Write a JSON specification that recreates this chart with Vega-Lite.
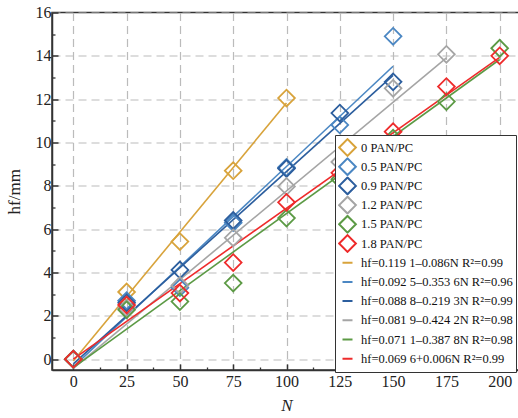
{
  "$schema": "https://vega.github.io/schema/vega-lite/v6.json",
  "width": 469,
  "height": 357.5,
  "autosize": "none",
  "padding": {"left": 52, "top": 12.5, "right": 0, "bottom": 48},
  "config": {
    "font": "Liberation Serif",
    "view": {"stroke": "#333333", "strokeWidth": 1.5},
    "legend": {"labelFont": "Liberation Serif", "labelFontSize": 12.5}
  },
  "datasets": {
    "pts": [
      {"label": "0 PAN/PC", "N": 0, "h": 0},
      {"label": "0 PAN/PC", "N": 25, "h": 3.1},
      {"label": "0 PAN/PC", "N": 50, "h": 5.43},
      {"label": "0 PAN/PC", "N": 75, "h": 8.7},
      {"label": "0 PAN/PC", "N": 100, "h": 12.05},
      {"label": "0.5 PAN/PC", "N": 0, "h": 0},
      {"label": "0.5 PAN/PC", "N": 25, "h": 2.7},
      {"label": "0.5 PAN/PC", "N": 50, "h": 3.3},
      {"label": "0.5 PAN/PC", "N": 75, "h": 6.3},
      {"label": "0.5 PAN/PC", "N": 100, "h": 8.85},
      {"label": "0.5 PAN/PC", "N": 125, "h": 10.81},
      {"label": "0.5 PAN/PC", "N": 150, "h": 14.9},
      {"label": "0.9 PAN/PC", "N": 0, "h": 0},
      {"label": "0.9 PAN/PC", "N": 25, "h": 2.6},
      {"label": "0.9 PAN/PC", "N": 50, "h": 4.12},
      {"label": "0.9 PAN/PC", "N": 75, "h": 6.4},
      {"label": "0.9 PAN/PC", "N": 100, "h": 8.8},
      {"label": "0.9 PAN/PC", "N": 125, "h": 11.36},
      {"label": "0.9 PAN/PC", "N": 150, "h": 12.8},
      {"label": "1.2 PAN/PC", "N": 0, "h": 0},
      {"label": "1.2 PAN/PC", "N": 25, "h": 2.35},
      {"label": "1.2 PAN/PC", "N": 50, "h": 3.4},
      {"label": "1.2 PAN/PC", "N": 75, "h": 5.6},
      {"label": "1.2 PAN/PC", "N": 100, "h": 7.97},
      {"label": "1.2 PAN/PC", "N": 125, "h": 9.1},
      {"label": "1.2 PAN/PC", "N": 150, "h": 12.5},
      {"label": "1.2 PAN/PC", "N": 175, "h": 14.07},
      {"label": "1.5 PAN/PC", "N": 0, "h": 0},
      {"label": "1.5 PAN/PC", "N": 25, "h": 2.28},
      {"label": "1.5 PAN/PC", "N": 50, "h": 2.66},
      {"label": "1.5 PAN/PC", "N": 75, "h": 3.51},
      {"label": "1.5 PAN/PC", "N": 100, "h": 6.51},
      {"label": "1.5 PAN/PC", "N": 125, "h": 8.3},
      {"label": "1.5 PAN/PC", "N": 150, "h": 10.2},
      {"label": "1.5 PAN/PC", "N": 175, "h": 11.89},
      {"label": "1.5 PAN/PC", "N": 200, "h": 14.35},
      {"label": "1.8 PAN/PC", "N": 0, "h": 0},
      {"label": "1.8 PAN/PC", "N": 25, "h": 2.5},
      {"label": "1.8 PAN/PC", "N": 50, "h": 3.05},
      {"label": "1.8 PAN/PC", "N": 75, "h": 4.46},
      {"label": "1.8 PAN/PC", "N": 100, "h": 7.24},
      {"label": "1.8 PAN/PC", "N": 125, "h": 8.6},
      {"label": "1.8 PAN/PC", "N": 150, "h": 10.5},
      {"label": "1.8 PAN/PC", "N": 175, "h": 12.58},
      {"label": "1.8 PAN/PC", "N": 200, "h": 14.0}
    ],
    "fits": [
      {"label": "hf=0.119 1–0.086N R²=0.99", "N": 0, "h": -0.086},
      {"label": "hf=0.119 1–0.086N R²=0.99", "N": 100, "h": 11.824},
      {"label": "hf=0.092 5–0.353 6N R²=0.96", "N": 0, "h": -0.354},
      {"label": "hf=0.092 5–0.353 6N R²=0.96", "N": 150, "h": 13.52},
      {"label": "hf=0.088 8–0.219 3N R²=0.99", "N": 0, "h": -0.219},
      {"label": "hf=0.088 8–0.219 3N R²=0.99", "N": 150, "h": 13.1},
      {"label": "hf=0.081 9–0.424 2N R²=0.98", "N": 0, "h": -0.424},
      {"label": "hf=0.081 9–0.424 2N R²=0.98", "N": 175, "h": 13.91},
      {"label": "hf=0.071 1–0.387 8N R²=0.98", "N": 0, "h": -0.388},
      {"label": "hf=0.071 1–0.387 8N R²=0.98", "N": 200, "h": 13.83},
      {"label": "hf=0.069 6+0.006N R²=0.99", "N": 0, "h": 0.006},
      {"label": "hf=0.069 6+0.006N R²=0.99", "N": 200, "h": 13.93}
    ]
  },
  "resolve": {"axis": {"x": "independent", "y": "independent"}},
  "layer": [
    {
      "data": {"name": "fits"},
      "mark": {"type": "line", "strokeWidth": 1.6, "opacity": 1},
      "encoding": {
        "x": {
          "field": "N", "type": "quantitative",
          "scale": {"domain": [-10, 210], "nice": false, "zero": false},
          "axis": {
            "orient": "bottom", "values": [12.5, 37.5, 62.5, 87.5, 112.5, 137.5, 162.5, 187.5],
            "labels": false, "grid": false, "domain": false, "title": null,
            "tickSize": -3, "tickColor": "#333333", "tickWidth": 1.3
          }
        },
        "y": {
          "field": "h", "type": "quantitative",
          "scale": {"domain": [-0.5, 16], "nice": false, "zero": false},
          "axis": {
            "orient": "left", "values": [1, 3, 5, 7, 9, 11, 13, 15],
            "labels": false, "grid": false, "domain": false, "title": null,
            "tickSize": -3, "tickColor": "#333333", "tickWidth": 1.3
          }
        },
        "color": {
          "field": "label", "type": "nominal",
          "scale": {
            "domain": ["0 PAN/PC", "0.5 PAN/PC", "0.9 PAN/PC", "1.2 PAN/PC", "1.5 PAN/PC", "1.8 PAN/PC",
              "hf=0.119 1–0.086N R²=0.99", "hf=0.092 5–0.353 6N R²=0.96", "hf=0.088 8–0.219 3N R²=0.99",
              "hf=0.081 9–0.424 2N R²=0.98", "hf=0.071 1–0.387 8N R²=0.98", "hf=0.069 6+0.006N R²=0.99"],
            "range": ["#D8A33B", "#4B87C3", "#2C5E9E", "#A5A5A5", "#5C9A45", "#EE2B2B",
              "#D8A33B", "#4B87C3", "#2C5E9E", "#A5A5A5", "#5C9A45", "#EE2B2B"]
          },
          "legend": {
            "orient": "none", "legendX": 283, "legendY": 122.5,
            "title": null, "padding": 3, "strokeColor": "#333333", "fillColor": "white",
            "labelFontSize": 12.5, "labelFont": "Liberation Serif", "labelColor": "#111111",
            "rowPadding": 0.2, "clipHeight": 19, "symbolStrokeWidth": 2, "labelLimit": 300, "labelOffset": 4,
            "encode": {"labels": {"update": {"font": {"value": "Liberation Serif"}, "fontSize": {"value": 12.5}}}}
          }
        }
      }
    },
    {
      "data": {"name": "pts"},
      "mark": {"type": "point", "filled": false, "strokeWidth": 1.8, "opacity": 1},
      "encoding": {
        "x": {
          "field": "N", "type": "quantitative",
          "axis": {
            "orient": "bottom", "values": [0, 25, 50, 75, 100, 125, 150, 175, 200],
            "title": "N", "titleFontStyle": "italic", "titleFontWeight": "normal", "titleFontSize": 17,
            "titleFont": "Liberation Serif", "titleColor": "#222222", "titlePadding": 8,
            "labelFontSize": 16, "labelFont": "Liberation Serif", "labelColor": "#222222", "labelPadding": 9,
            "tickSize": -6, "tickColor": "#333333", "tickWidth": 1.5,
            "domainColor": "#333333", "domainWidth": 1.5,
            "grid": true, "gridDash": [8, 5], "gridColor": "#BBBBBB", "gridWidth": 1.2
          }
        },
        "y": {
          "field": "h", "type": "quantitative",
          "axis": {
            "orient": "left", "values": [0, 2, 4, 6, 8, 10, 12, 14, 16],
            "title": "hf/mm", "titleFontStyle": "normal", "titleFontWeight": "normal", "titleFontSize": 17,
            "titleFont": "Liberation Serif", "titleColor": "#222222", "titlePadding": 12,
            "labelFontSize": 16, "labelFont": "Liberation Serif", "labelColor": "#222222", "labelPadding": 7,
            "tickSize": -6, "tickColor": "#333333", "tickWidth": 1.5,
            "domainColor": "#333333", "domainWidth": 1.5,
            "grid": true, "gridDash": [8, 5], "gridColor": "#BBBBBB", "gridWidth": 1.2
          }
        },
        "color": {"field": "label", "type": "nominal"},
        "shape": {
          "field": "label", "type": "nominal",
          "scale": {
            "domain": ["0 PAN/PC", "0.5 PAN/PC", "0.9 PAN/PC", "1.2 PAN/PC", "1.5 PAN/PC", "1.8 PAN/PC",
              "hf=0.119 1–0.086N R²=0.99", "hf=0.092 5–0.353 6N R²=0.96", "hf=0.088 8–0.219 3N R²=0.99",
              "hf=0.081 9–0.424 2N R²=0.98", "hf=0.071 1–0.387 8N R²=0.98", "hf=0.069 6+0.006N R²=0.99"],
            "range": ["diamond", "diamond", "diamond", "diamond", "diamond", "diamond",
              "stroke", "stroke", "stroke", "stroke", "stroke", "stroke"]
          },
          "legend": {
            "orient": "none", "legendX": 283, "legendY": 122.5,
            "title": null, "padding": 3, "strokeColor": "#333333", "fillColor": "white",
            "labelFontSize": 12.5, "labelFont": "Liberation Serif", "labelColor": "#111111",
            "rowPadding": 0.2, "clipHeight": 19, "symbolStrokeWidth": 2, "labelLimit": 300, "labelOffset": 4,
            "encode": {"labels": {"update": {"font": {"value": "Liberation Serif"}, "fontSize": {"value": 12.5}}}}
          }
        },
        "size": {
          "field": "label", "type": "nominal",
          "scale": {
            "type": "ordinal",
            "domain": ["0 PAN/PC", "0.5 PAN/PC", "0.9 PAN/PC", "1.2 PAN/PC", "1.5 PAN/PC", "1.8 PAN/PC",
              "hf=0.119 1–0.086N R²=0.99", "hf=0.092 5–0.353 6N R²=0.96", "hf=0.088 8–0.219 3N R²=0.99",
              "hf=0.081 9–0.424 2N R²=0.98", "hf=0.071 1–0.387 8N R²=0.98", "hf=0.069 6+0.006N R²=0.99"],
            "range": [280, 280, 280, 280, 280, 280, 100, 100, 100, 100, 100, 100]
          }
        }
      }
    }
  ]
}
